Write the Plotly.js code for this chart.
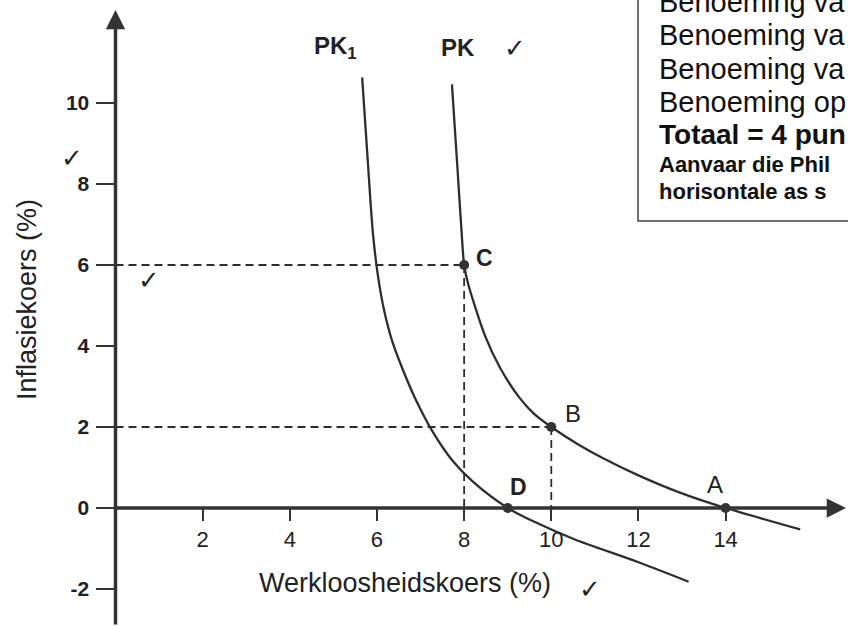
<!DOCTYPE html>
<html>
<head>
<meta charset="utf-8">
<script src="https://cdn.plot.ly/plotly-3.0.1.min.js"></script>
<style>html,body{margin:0;padding:0;background:#fff;}#chart{width:848px;height:626px;}</style>
</head>
<body>
<div id="chart"></div>
<script>
// ---- data ----
const pk1X = [5.66, 5.79, 5.91, 6.02, 6.16, 6.34, 6.58, 6.88, 7.27, 7.74, 8.20, 9.00, 9.65, 10.50, 12.00, 13.15];
const pk1Y = [10.63, 8.55, 6.75, 5.75, 4.90, 4.15, 3.45, 2.70, 1.90, 1.16, 0.65, 0.00, -0.36, -0.76, -1.34, -1.82];
const pkX = [7.72, 7.84, 7.93, 8.00, 8.10, 8.48, 8.83, 9.25, 9.60, 10.00, 10.60, 11.20, 12.05, 12.95, 14.00, 15.71];
const pkY = [10.46, 8.50, 7.00, 6.00, 5.50, 4.25, 3.45, 2.75, 2.33, 2.00, 1.58, 1.22, 0.78, 0.38, 0.00, -0.53];
const pointNames = ["C", "B", "A", "D"];
const pointX = [8, 10, 14, 9];
const pointY = [6, 2, 0, 0];
const xTickVals = [2, 4, 6, 8, 10, 12, 14];
const xTickText = ["2", "4", "6", "8", "10", "12", "14"];
const yTickVals = [-2, 0, 2, 4, 6, 8, 10];
const yTickText = ["-2", "0", "2", "4", "6", "8", "10"];
const boxLines = ["Benoeming va", "Benoeming va", "Benoeming va", "Benoeming op",
                  "Totaal = 4 pun", "Aanvaar die Phil", "horisontale as s"];

// ---- layout helpers ----
const W = 848, H = 626;
const X0 = -115.5 / 43.58, X1 = (W - 115.5) / 43.58;
const Y1 = 508 / 40.5, Y0 = (508 - H) / 40.5;
const px = v => v / W;
const py = v => 1 - v / H;
const FONT = "Liberation Sans, Arial, sans-serif";
const INK = "#2e2e2e";

const traces = [];
// dashed guides from C and B to the axes
["C", "B"].forEach(n => {
  const i = pointNames.indexOf(n);
  traces.push({x: [0, pointX[i]], y: [pointY[i], pointY[i]], mode: "lines", type: "scatter",
    line: {color: INK, width: 1.8, dash: "8px,5px"}, hoverinfo: "skip"});
  traces.push({x: [pointX[i], pointX[i]], y: [pointY[i], 0], mode: "lines", type: "scatter",
    line: {color: INK, width: 1.8, dash: "8px,5px"}, hoverinfo: "skip"});
});
traces.push({x: pk1X, y: pk1Y, mode: "lines", type: "scatter", name: "PK1",
  line: {color: INK, width: 2.3, shape: "spline", smoothing: 1}});
traces.push({x: pkX, y: pkY, mode: "lines", type: "scatter", name: "PK",
  line: {color: INK, width: 2.3, shape: "spline", smoothing: 0.7}});
traces.push({x: pointX, y: pointY, mode: "markers", type: "scatter",
  marker: {color: "#333", size: 10}});

const ann = [];
// axis arrows
ann.push({x: 0, y: (508 - 10) / 40.5, ax: 0, ay: Y0, xref: "x", yref: "y", axref: "x", ayref: "y",
  text: "", showarrow: true, arrowhead: 2, arrowsize: 1.1, arrowwidth: 3.5, arrowcolor: "#333"});
ann.push({x: (846 - 115.5) / 43.58, y: 0, ax: 0, ay: 0, xref: "x", yref: "y", axref: "x", ayref: "y",
  text: "", showarrow: true, arrowhead: 2, arrowsize: 1.1, arrowwidth: 3.5, arrowcolor: "#333"});

function label(text, x, y, size, opts) {
  ann.push(Object.assign({text: text, x: px(x), y: py(y), xref: "paper", yref: "paper",
    showarrow: false, xanchor: "center", yanchor: "middle",
    font: {family: FONT, size: size, color: "#222"}}, opts || {}));
}
label("<b>PK<sub>1</sub></b>", 335, 47, 24);
label("<b>PK</b>", 458, 47, 24);
label("✓", 515, 48, 26, {font: {family: "DejaVu Sans", size: 26, color: "#222"}});
label("✓", 72, 158, 26, {font: {family: "DejaVu Sans", size: 26, color: "#222"}});
label("✓", 149, 280, 26, {font: {family: "DejaVu Sans", size: 26, color: "#222"}});
label("✓", 590, 589, 26, {font: {family: "DejaVu Sans", size: 26, color: "#222"}});
label("Inflasiekoers (%)", 27, 300, 27, {textangle: -90});
label("Werkloosheidskoers (%)", 405, 583, 27);
label("<b>C</b>", 484, 258, 23);
label("B", 573, 413, 24);
label("A", 715, 484, 24);
label("<b>D</b>", 518, 487, 23);

const lineY = [2, 35, 69, 102, 135, 164, 191];
boxLines.forEach((t, i) => {
  let txt = t, size = 29;
  if (i === 4) { txt = "<b>" + t + "</b>"; size = 28; }
  if (i >= 5) { txt = "<b>" + t + "</b>"; size = 22; }
  label(txt, 657, lineY[i], size, {xanchor: "left", font: {family: FONT, size: size, color: "#111"}});
});

const layout = {
  width: W, height: H,
  margin: {l: 0, r: 0, t: 0, b: 0},
  paper_bgcolor: "#fff", plot_bgcolor: "#fff",
  showlegend: false, hovermode: false,
  font: {family: FONT, color: "#222"},
  xaxis: {range: [X0, X1], anchor: "free", position: (H - 508) / H,
    showgrid: false, zeroline: false, showline: false,
    ticks: "outside", ticklen: 12, tickwidth: 2, tickcolor: "#333",
    tickvals: xTickVals, ticktext: xTickText, ticklabelstandoff: 0,
    tickfont: {family: FONT, size: 22, color: "#222"}},
  yaxis: {range: [Y0, Y1], anchor: "free", position: 115.5 / W,
    showgrid: false, zeroline: false, showline: false,
    ticks: "outside", ticklen: 20, tickwidth: 2, tickcolor: "#333",
    tickvals: yTickVals, ticktext: yTickText, ticklabelstandoff: 2,
    tickfont: {family: FONT, size: 21, color: "#222", weight: "bold"}},
  shapes: [{type: "rect", xref: "paper", yref: "paper",
    x0: px(638), x1: px(870), y0: py(221), y1: py(-20),
    line: {color: "#444", width: 1.5}, layer: "below"}],
  annotations: ann
};

Plotly.newPlot("chart", traces, layout, {displayModeBar: false, staticPlot: true});
</script>
</body>
</html>
